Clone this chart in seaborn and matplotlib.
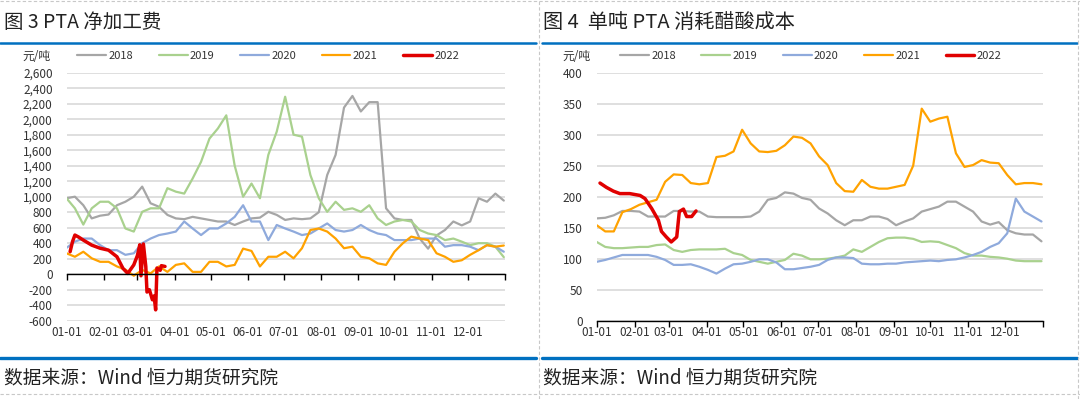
import numpy as np
import matplotlib
matplotlib.use('Agg')
import matplotlib.pyplot as plt
from matplotlib.lines import Line2D
import seaborn as sns

# weekly readings (day of year = week * 7)
weeks = np.arange(53) * 7
month_days = [0, 31, 59, 90, 120, 151, 181, 212, 243, 273, 304, 334, 365]
month_labels = ['01-01', '02-01', '03-01', '04-01', '05-01', '06-01', '07-01',
                '08-01', '09-01', '10-01', '11-01', '12-01', '']
years = ['2018', '2019', '2020', '2021', '2022']

# 图3 PTA 净加工费 (元/吨)
fee_2018 = [980, 1000, 890, 720, 755, 770, 890, 935, 1000, 1130, 915, 870, 765, 720, 710, 740,
            720, 700, 680, 680, 635, 680, 720, 730, 805, 765, 700, 720, 710, 720, 800, 1280,
            1540, 2150, 2300, 2100, 2220, 2220, 850, 720, 700, 700, 460, 330, 500, 570, 680,
            630, 680, 980, 935, 1040, 950]
fee_2019 = [980, 850, 640, 850, 935, 935, 850, 590, 550, 805, 850, 850, 1110, 1065, 1040, 1235,
            1450, 1750, 1880, 2050, 1400, 1000, 1170, 980, 1540, 1840, 2290, 1800, 1775, 1280,
            980, 805, 935, 830, 850, 805, 890, 720, 635, 680, 700, 680, 570, 525, 505, 440, 460,
            420, 375, 400, 400, 355, 220]
fee_2020 = [340, 420, 460, 460, 375, 310, 310, 250, 270, 400, 460, 505, 525, 550, 680, 590, 505,
            590, 590, 655, 740, 890, 680, 680, 440, 635, 590, 550, 505, 525, 590, 655, 570, 550,
            570, 635, 570, 525, 505, 440, 440, 440, 460, 460, 460, 355, 375, 375, 355, 310, 375,
            355, 290]
fee_2021 = [270, 225, 290, 205, 160, 160, 100, 60, -20, 55, 10, 100, 30, 120, 140, 30, 30, 160,
            160, 100, 120, 330, 300, 100, 225, 225, 290, 205, 335, 570, 590, 550, 460, 335, 355,
            225, 205, 140, 120, 290, 400, 485, 460, 440, 270, 225, 160, 180, 250, 310, 375, 355,
            370]
fee_2022_days = [3, 5, 7, 10, 14, 21, 28, 35, 42, 47, 51, 56, 59, 61, 62, 64, 66, 67, 69, 71.5,
                 72.9, 74.2, 75.3, 78, 79, 82]
fee_2022 = [290, 420, 505, 480, 440, 375, 335, 310, 225, 75, 10, 120, 240, 380, -20, 390, 100,
            -230, -200, -330, -280, -460, 80, 50, 110, 100]

# 图4 单吨PTA消耗醋酸成本 (元/吨)
acid_2018 = [165, 166, 170, 177, 177, 176, 168, 168, 168, 177, 177, 176, 176, 168, 167, 167, 167,
             167, 168, 176, 195, 198, 207, 205, 198, 195, 181, 173, 162, 154, 162, 162, 168, 168,
             164, 154, 160, 165, 176, 180, 184, 192, 192, 184, 176, 160, 155, 159, 146, 141, 139,
             139, 128]
acid_2019 = [127, 119, 117, 117, 118, 119, 119, 122, 123, 114, 111, 114, 115, 115, 115, 116, 109,
             106, 98, 95, 92, 95, 98, 108, 105, 99, 99, 100, 102, 105, 115, 111, 119, 127, 133,
             134, 134, 132, 127, 128, 127, 122, 117, 109, 105, 105, 103, 102, 100, 97, 96, 96, 96]
acid_2020 = [95, 98, 102, 106, 106, 106, 106, 103, 98, 90, 90, 91, 87, 82, 76, 84, 91, 92, 95,
             99, 99, 94, 83, 83, 85, 87, 90, 98, 102, 102, 101, 92, 91, 91, 92, 92, 94, 95, 96,
             97, 96, 98, 99, 102, 106, 111, 119, 125, 141, 197, 176, 168, 160]
acid_2021 = [154, 144, 144, 175, 180, 187, 191, 195, 224, 236, 235, 222, 220, 222, 264, 266, 273,
             308, 286, 273, 272, 274, 283, 297, 295, 286, 265, 251, 222, 209, 208, 227, 216, 213,
             213, 216, 219, 250, 342, 321, 326, 329, 270, 248, 251, 259, 255, 254, 235, 220, 222,
             222, 220]
acid_2022_days = [2.7, 8, 13.6, 19, 27, 35.5, 39.5, 45, 50.5, 53, 57, 61, 65.5, 67.6, 71, 73.6,
                  77.7, 81.3]
acid_2022 = [222, 215, 209, 205, 205, 202, 197, 181, 162, 144, 135, 127, 135, 176, 180, 168, 168,
             177]

colors = {'2018': '#a6a6a6', '2019': '#a9d18e', '2020': '#8faadc',
          '2021': '#ffa200', '2022': '#e00000'}
widths = {'2018': 1.6, '2019': 1.6, '2020': 1.6, '2021': 1.6, '2022': 2.5}

sns.set_theme(style='white')
plt.rcParams['font.family'] = ['Noto Sans CJK SC', 'DejaVu Sans']

W, H = 1080, 399
fig = plt.figure(figsize=(W / 100, H / 100), dpi=100)


def fx(px):
    return px / W


def fy(px):
    return 1 - px / H


def draw_panel(ax, series, ylim, yticks, ylabels, leg_x):
    for name, xs, ys in zip(years, *series):
        sns.lineplot(x=xs, y=ys, ax=ax, color=colors[name], linewidth=widths[name],
                     label=name, legend=False)
    ax.set_xlim(0, 365)
    ax.set_ylim(*ylim)
    ax.set_yticks(yticks)
    ax.set_yticklabels(ylabels)
    ax.yaxis.grid(True, color='#d9d9d9', linewidth=1.2)
    ax.xaxis.grid(False)
    ax.set_axisbelow(True)
    for s in ['left', 'right', 'top']:
        ax.spines[s].set_visible(False)
    ax.spines['bottom'].set_position(('data', 0))
    ax.spines['bottom'].set_color('black')
    ax.spines['bottom'].set_linewidth(1.0)
    ax.set_xticks(month_days)
    ax.tick_params(axis='x', direction='out', length=4, width=1, color='black',
                   labelbottom=False, bottom=True)
    ax.tick_params(axis='y', length=0, labelsize=8.5, pad=10, colors='#333333')
    sec = ax.secondary_xaxis('bottom')
    sec.set_xticks(month_days[:-1], labels=month_labels[:-1])
    sec.tick_params(length=0, labelsize=8.5, pad=4, colors='#333333')
    sec.spines['bottom'].set_visible(False)
    ax.set_xlabel('')
    ax.set_ylabel('')
    ax.legend(loc='center', bbox_to_anchor=(leg_x, 1.067), ncol=5, frameon=False,
              fontsize=8, handlelength=2.6, handletextpad=0.2, columnspacing=2.3,
              labelcolor='#333333')


ax1 = fig.add_axes([fx(66.5), fy(320.7), fx(438.5), 248 / H])
ax2 = fig.add_axes([fx(596.7), fy(320.7), fx(446), 248 / H])

fee_ticks = list(range(-600, 2601, 200))
draw_panel(ax1,
           ([weeks, weeks, weeks, weeks, fee_2022_days],
            [fee_2018, fee_2019, fee_2020, fee_2021, fee_2022]),
           (-600, 2600), fee_ticks, [f'{v:,}' for v in fee_ticks], 0.46)

acid_ticks = list(range(0, 401, 50))
draw_panel(ax2,
           ([weeks, weeks, weeks, weeks, acid_2022_days],
            [acid_2018, acid_2019, acid_2020, acid_2021, acid_2022]),
           (0, 400), acid_ticks, [str(v) for v in acid_ticks], 0.48)

# unit labels
fig.text(fx(36), fy(56), '元/吨', fontsize=8.5, ha='center', va='center', color='#333333')
fig.text(fx(576), fy(56), '元/吨', fontsize=8.5, ha='center', va='center', color='#333333')

# titles
fig.text(fx(4), fy(22), '图 3 PTA 净加工费', fontsize=14, ha='left', va='center',
         color='#222222')
fig.text(fx(543), fy(22), '图 4  单吨 PTA 消耗醋酸成本', fontsize=14.5, ha='left',
         va='center', color='#222222')

# source notes
fig.text(fx(4), fy(378), '数据来源：Wind 恒力期货研究院', fontsize=13.5, ha='left',
         va='center', color='#222222')
fig.text(fx(543), fy(378), '数据来源：Wind 恒力期货研究院', fontsize=13.5, ha='left',
         va='center', color='#222222')

# blue rules
blue = '#0070c0'
for x0, x1 in [(0, 536), (542, 1077)]:
    fig.add_artist(Line2D([fx(x0), fx(x1)], [fy(43), fy(43)], color=blue, lw=1.8))
    fig.add_artist(Line2D([fx(x0), fx(x1)], [fy(358), fy(358)], color=blue, lw=2.4))

# dashed page borders
grey = '#c8c8c8'
fig.add_artist(Line2D([fx(539), fx(539)], [0, 1], color=grey, lw=0.8, ls=(0, (3, 2))))
fig.add_artist(Line2D([0, 1], [fy(394), fy(394)], color=grey, lw=0.8, ls=(0, (3, 2))))
fig.add_artist(Line2D([0, 1], [fy(1), fy(1)], color=grey, lw=0.8, ls=(0, (3, 2))))
fig.add_artist(Line2D([fx(1078), fx(1078)], [0, 1], color=grey, lw=0.8, ls=(0, (3, 2))))

fig.savefig('out.png', dpi=100)
